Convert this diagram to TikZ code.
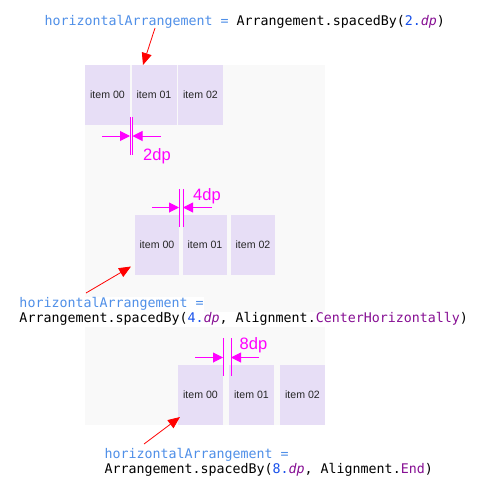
\documentclass[tikz,border=0pt]{standalone}
\usepackage{fontspec}
\setmainfont{Liberation Sans}
\setmonofont{DejaVu Sans Mono}
\usetikzlibrary{arrows.meta}
\definecolor{panel}{HTML}{F9F9F9}
\definecolor{itemfill}{HTML}{E7DEF6}
\definecolor{argblue}{HTML}{4F8FE8}
\definecolor{numblue}{HTML}{1750EB}
\definecolor{kpurple}{HTML}{871094}
\definecolor{mag}{HTML}{FF00FF}
\definecolor{itemtext}{HTML}{262626}
\tikzset{
  itembox/.style={draw=none, fill=itemfill, minimum width=45pt, minimum height=60pt, inner sep=0pt,
    font=\fontsize{10.6}{12}\selectfont, text=itemtext},
  codetext/.style={font=\fontsize{13.3}{15}\selectfont\ttfamily, inner sep=0pt, anchor=base west},
  codebg/.style={codetext, fill=white, text height=10.5pt, text depth=4.5pt},
  dimlabel/.style={text=mag, font=\fontsize{16.5}{20}\selectfont, inner sep=0pt, anchor=base west},
  dimline/.style={fill=mag, draw=none},
  dimarrow/.style={color=mag, line width=1pt, -{Triangle[length=10pt,width=10pt]}},
  redarrow/.style={color=red, line width=0.8pt, -{Triangle[length=12pt,width=10pt]}}
}
\newcommand{\argname}{\textcolor{argblue}{horizontalArrangement =}}
\newcommand{\dpsuffix}{\textcolor{kpurple}{\textit{dp}}}
\begin{document}
\begin{tikzpicture}[x=1pt,y=-1pt]
\useasboundingbox (0,0) rectangle (482,501);
\fill[white] (0,0) rectangle (482,501);
% panel
\fill[panel] (85,65) rectangle (325,425);

% ---------- row 1 ----------
\node[itembox] (a0) at (107.5,95) {item 00};
\node[itembox] (a1) at (154,95) {item 01};
\node[itembox] (a2) at (200.5,95) {item 02};

\node[codetext] (codeA) at (44.3,25.5) {\argname{} Arrangement.spacedBy(\textcolor{numblue}{2.}\dpsuffix)};
\coordinate (rA0) at (155,28);
\coordinate (rA1) at (143,65);
\draw[redarrow] (rA0) -- (rA1);

\coordinate (gA1t) at (129.6,117); \coordinate (gA1b) at (130.8,155);
\coordinate (gA2t) at (132,117); \coordinate (gA2b) at (133.2,155);
\path[dimline] (gA1t) rectangle (gA1b);
\path[dimline] (gA2t) rectangle (gA2b);
\coordinate (lA0) at (102,136); \coordinate (lA1) at (130,136);
\coordinate (rAa) at (161,136); \coordinate (rAb) at (132.5,136);
\draw[dimarrow] (lA0) -- (lA1);
\draw[dimarrow] (rAa) -- (rAb);
\node[dimlabel] (labA) at (143,160.5) {2dp};

% ---------- row 2 ----------
\node[itembox, minimum width=44pt] (b0) at (157,245) {item 00};
\node[itembox, minimum width=44pt] (b1) at (205,245) {item 01};
\node[itembox, minimum width=44pt] (b2) at (253,245) {item 02};

\coordinate (gB1t) at (178.5,189); \coordinate (gB1b) at (179.7,226.5);
\coordinate (gB2t) at (182.5,189); \coordinate (gB2b) at (183.7,226.5);
\path[dimline] (gB1t) rectangle (gB1b);
\path[dimline] (gB2t) rectangle (gB2b);
\coordinate (lB0) at (152,207.5); \coordinate (lB1) at (179,207.5);
\coordinate (rBa) at (212,207.5); \coordinate (rBb) at (183,207.5);
\draw[dimarrow] (lB0) -- (lB1);
\draw[dimarrow] (rBa) -- (rBb);
\node[dimlabel] (labB) at (193,200.5) {4dp};

\node[codebg] (codeB1) at (19.3,307.7) {\argname\ };
\node[codebg] (codeB2) at (19.3,322.5) {Arrangement.spacedBy(\textcolor{numblue}{4.}\dpsuffix, Alignment.\textcolor{kpurple}{CenterHorizontally})};
\coordinate (rB0) at (86,293);
\coordinate (rB1) at (131,266.5);
\draw[redarrow] (rB0) -- (rB1);

% ---------- row 3 ----------
\node[itembox] (c0) at (200.5,395) {item 00};
\node[itembox] (c1) at (251.5,395) {item 01};
\node[itembox] (c2) at (302.5,395) {item 02};

\coordinate (gC1t) at (222.5,338); \coordinate (gC1b) at (223.7,375.5);
\coordinate (gC2t) at (230.5,338); \coordinate (gC2b) at (231.7,375.5);
\path[dimline] (gC1t) rectangle (gC1b);
\path[dimline] (gC2t) rectangle (gC2b);
\coordinate (lC0) at (195,357.5); \coordinate (lC1) at (223,357.5);
\coordinate (rCa) at (259,357.5); \coordinate (rCb) at (231,357.5);
\draw[dimarrow] (lC0) -- (lC1);
\draw[dimarrow] (rCa) -- (rCb);
\node[dimlabel] (labC) at (239.5,349) {8dp};

\node[codetext] (codeC1) at (104.3,458.7) {\argname};
\node[codetext] (codeC2) at (104.3,473.3) {Arrangement.spacedBy(\textcolor{numblue}{8.}\dpsuffix, Alignment.\textcolor{kpurple}{End})};
\coordinate (rC0) at (144,444);
\coordinate (rC1) at (180,417);
\draw[redarrow] (rC0) -- (rC1);
\end{tikzpicture}
\end{document}
